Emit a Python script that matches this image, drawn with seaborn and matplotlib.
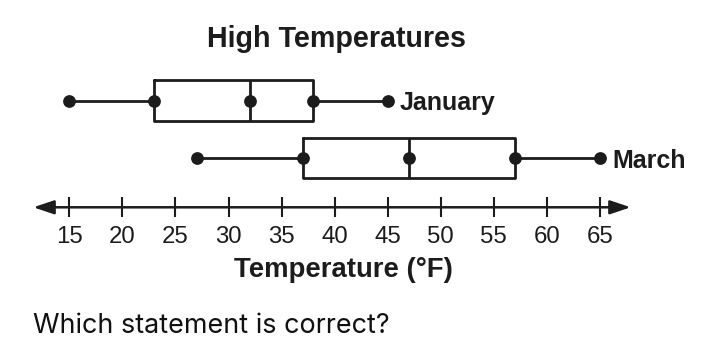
import matplotlib
matplotlib.use("Agg")
import matplotlib.pyplot as plt
import seaborn as sns
import pandas as pd

# ---- data (five-number summaries) ----
months = ["January", "March"]
jan_summary = [15, 23, 32, 38, 45]   # min, Q1, median, Q3, max
mar_summary = [27, 37, 47, 57, 65]
ticks = [15, 20, 25, 30, 35, 40, 45, 50, 55, 60, 65]
title = "High Temperatures"
xlabel = "Temperature (°F)"
question = "Which statement is correct?"

df = pd.DataFrame({
    "Month": [months[0]] * len(jan_summary) + [months[1]] * len(mar_summary),
    "Temperature": jan_summary + mar_summary,
})

sns.set_theme(style="white")
plt.rcParams["font.family"] = ["Liberation Sans", "DejaVu Sans"]

W, H = 727, 349
fig = plt.figure(figsize=(W / 100, H / 100), dpi=100)
fig.patch.set_facecolor("white")

axis_y = 207.3            # pixel row of the number line
ax = fig.add_axes([0, (H - axis_y) / H, 1, axis_y / H])
ax.set_facecolor("white")

INK = "#1c1c1c"

sns.boxplot(data=df, x="Temperature", y="Month", order=months, ax=ax,
            whis=(0, 100), width=0.71, fill=False, color=INK,
            linecolor=INK, linewidth=2.0, showcaps=False, showfliers=False)
sns.stripplot(data=df, x="Temperature", y="Month", order=months, ax=ax,
              jitter=False, size=9.2, color=INK, linewidth=0, zorder=5)

# scales: 15 at px 69.3, 10.614 px per degree
px_per = 10.614
x0 = 15 - 69.3 / px_per
ax.set_xlim(x0, x0 + W / px_per)
spacing = 57.5
ytop = -100.5 / spacing
ax.set_ylim(ytop + axis_y / spacing, ytop)

for s in ax.spines.values():
    s.set_visible(False)

ax.set_yticks([])
ax.set_ylabel("")
ax.set_xticks(ticks)
ax.set_xticklabels([str(t) for t in ticks])
ax.tick_params(axis="x", bottom=True, direction="inout", length=14.4, width=1.5,
               pad=6.3, labelsize=17.3, colors=INK)

# number line with arrows
ax.annotate("", xy=(67.89, 0), xytext=(11.61, 0),
            xycoords=ax.get_xaxis_transform(), textcoords=ax.get_xaxis_transform(),
            arrowprops=dict(arrowstyle="<|-|>,head_length=1.25,head_width=0.42",
                            mutation_scale=10, color=INK, lw=1.8,
                            shrinkA=0, shrinkB=0),
            annotation_clip=False)

# series labels
for i, (m, summ) in enumerate(zip(months, [jan_summary, mar_summary])):
    ax.text(summ[-1] + 1.15, i + 0.17, m, fontsize=18, fontweight="bold",
            color=INK, va="baseline", ha="left")

ax.set_title(title, fontsize=20.6, fontweight="bold", color=INK,
             x=336 / W, y=(axis_y - 47) / axis_y, va="baseline", pad=0)
ax.set_xlabel(xlabel, fontsize=19.8, fontweight="bold", color=INK)
ax.xaxis.set_label_coords(343.5 / W, -(277 - axis_y) / axis_y)
ax.xaxis.label.set_va("baseline")

fig.text(33 / W, (H - 333) / H, question, fontsize=19.4, color="#111111",
         family=["Inter", "DejaVu Sans"], va="baseline", ha="left")

fig.savefig("out.png", dpi=100, facecolor="white")
